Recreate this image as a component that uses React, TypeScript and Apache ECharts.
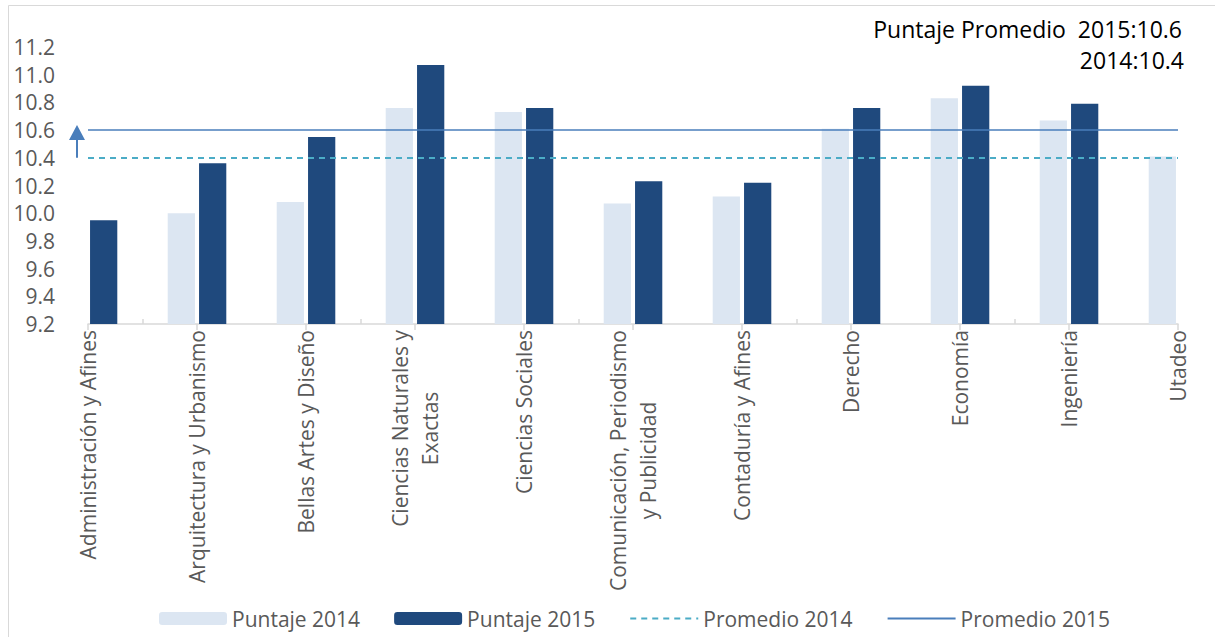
import React, { useEffect, useRef } from "react";
import * as echarts from "echarts";

const categories = [
  "Administración y Afines",
  "Arquitectura y Urbanismo",
  "Bellas Artes y Diseño",
  "Ciencias Naturales y\nExactas",
  "Ciencias Sociales",
  "Comunicación, Periodismo\ny Publicidad",
  "Contaduría y Afines",
  "Derecho",
  "Economía",
  "Ingeniería",
  "Utadeo",
];
const puntaje2014 = [null, 10.0, 10.08, 10.76, 10.73, 10.07, 10.12, 10.61, 10.83, 10.67, 10.41];
const puntaje2015 = [9.95, 10.36, 10.55, 11.07, 10.76, 10.23, 10.22, 10.76, 10.92, 10.79, null];
const promedio2014 = 10.4;
const promedio2015 = 10.6;
const yTicks = { min: 9.2, max: 11.2, interval: 0.2 };

const FONT = "'Open Sans', sans-serif";
const GRAY = "#595959";
const C2014 = "#DCE6F2";
const C2015 = "#1F497D";
const CP2014 = "#4BACC6";
const CP2015 = "#4A7EBB";
const AXIS = "#D9D9D9";

export default function App() {
  const ref = useRef<HTMLDivElement>(null);
  useEffect(() => {
    if (!ref.current) return;
    const chart = echarts.init(ref.current, null, { renderer: "svg" });
    const noSymbol = { color: "rgba(0,0,0,0)", borderWidth: 0, opacity: 0 };
    const option: any = {
      animation: false,
      textStyle: { fontFamily: FONT },
      grid: { left: 88, right: 37, top: 47, bottom: 313, containLabel: false },
      legend: {
        bottom: 3,
        left: 154,
        itemWidth: 68,
        itemHeight: 13,
        itemGap: 34,
        textStyle: { color: GRAY, fontSize: 21, fontFamily: FONT },
        data: [
          { name: "Puntaje 2014" },
          { name: "Puntaje 2015" },
          { name: "Promedio 2014", itemStyle: noSymbol },
          { name: "Promedio 2015", itemStyle: noSymbol },
        ],
      },
      xAxis: [
        {
          type: "category",
          data: categories,
          boundaryGap: false,
          axisLine: { lineStyle: { color: AXIS, width: 1.5 } },
          axisTick: { show: true, length: 6, lineStyle: { color: AXIS, width: 1.5 } },
          axisLabel: {
            interval: 0,
            rotate: 90,
            margin: 6,
            color: GRAY,
            fontSize: 21,
            fontFamily: FONT,
            formatter: (v: string) =>
              v.split("\n").map((l) => "{c|" + l + "}").join("\n"),
            rich: { c: { align: "center", color: GRAY, fontSize: 21, fontFamily: FONT, lineHeight: 30 } },
          },
        },
        {
          type: "category",
          data: categories.slice(0, categories.length - 1),
          boundaryGap: true,
          position: "bottom",
          axisLine: { show: false },
          axisTick: { show: true, inside: true, alignWithLabel: true, length: 5, lineStyle: { color: AXIS, width: 1.5 } },
          axisLabel: { show: false },
        },
      ],
      yAxis: {
        type: "value",
        min: yTicks.min,
        max: yTicks.max,
        interval: yTicks.interval,
        axisLine: { show: false },
        axisTick: { show: false },
        splitLine: { show: false },
        axisLabel: {
          color: GRAY,
          fontSize: 21,
          fontFamily: FONT,
          margin: 33,
          formatter: (v: number) => v.toFixed(1),
        },
      },
      series: [
        {
          name: "Puntaje 2014",
          type: "bar",
          data: puntaje2014,
          barWidth: "25%",
          barGap: "15%",
          itemStyle: { color: C2014 },
        },
        {
          name: "Puntaje 2015",
          type: "bar",
          data: puntaje2015,
          barWidth: "25%",
          barGap: "15%",
          itemStyle: { color: C2015 },
        },
        {
          name: "Promedio 2014",
          type: "line",
          data: [],
          symbol: "none",
          itemStyle: noSymbol,
          lineStyle: { color: CP2014, type: [6, 5], width: 2 },
          markLine: {
            silent: true,
            symbol: "none",
            label: { show: false },
            lineStyle: { color: CP2014, type: [6, 5], width: 2, opacity: 1 },
            data: [{ yAxis: promedio2014 }],
          },
        },
        {
          name: "Promedio 2015",
          type: "line",
          data: [],
          symbol: "none",
          itemStyle: noSymbol,
          lineStyle: { color: CP2015, type: "solid", width: 1.5 },
          markLine: {
            silent: true,
            symbol: "none",
            label: { show: false },
            lineStyle: { color: CP2015, type: "solid", width: 1.5, opacity: 1 },
            data: [{ yAxis: promedio2015 }],
          },
        },
      ],
    };
    chart.setOption(option);
    const y14 = chart.convertToPixel({ yAxisIndex: 0 }, promedio2014) as number;
    const y15 = chart.convertToPixel({ yAxisIndex: 0 }, promedio2015) as number;
    const ax = 77;
    chart.setOption({
      graphic: [
        {
          type: "rect",
          silent: true,
          shape: { x: 8.5, y: 5.5, width: 1220, height: 640 },
          style: { fill: "none", stroke: AXIS, lineWidth: 1 },
        },
        {
          type: "line",
          shape: { x1: ax, y1: y14, x2: ax, y2: y15 + 10 },
          style: { stroke: CP2015, lineWidth: 2 },
        },
        {
          type: "polygon",
          shape: { points: [[ax, y15 - 5], [ax - 8, y15 + 10], [ax + 8, y15 + 10]] },
          style: { fill: CP2015 },
        },
        {
          type: "text",
          right: 33,
          top: 17,
          style: {
            text: "Puntaje Promedio  2015:10.6",
            fill: "#000",
            font: "23px " + FONT,
            align: "right",
          },
        },
        {
          type: "text",
          right: 31,
          top: 48,
          style: {
            text: "2014:10.4",
            fill: "#000",
            font: "23px " + FONT,
            align: "right",
          },
        },
      ],
    });
    return () => chart.dispose();
  }, []);
  return (
    <div
      ref={ref}
      style={{ position: "fixed", left: 0, top: 0, width: 1215, height: 637, background: "#fff" }}
    />
  );
}
